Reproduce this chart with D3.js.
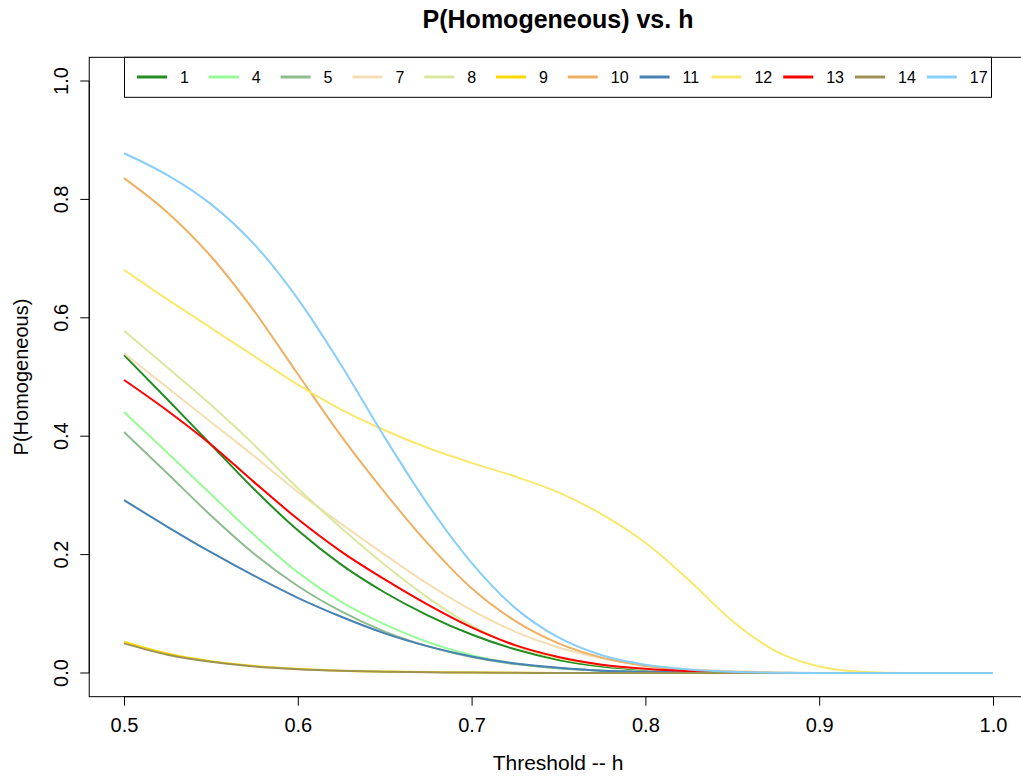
<!DOCTYPE html>
<html>
<head>
<meta charset="utf-8">
<script src="https://cdn.jsdelivr.net/npm/d3@7"></script>
<style>
  html, body { margin: 0; padding: 0; background: #fff; }
  text { font-family: "Liberation Sans", Arial, Helvetica, sans-serif; fill: #000; }
</style>
</head>
<body>
<svg id="chart" width="1021" height="777"></svg>
<script>
// ---- data ----
const thresholds = [0.5, 0.525, 0.55, 0.575, 0.6, 0.625, 0.65, 0.675, 0.7, 0.725, 0.75,
                    0.775, 0.8, 0.825, 0.85, 0.875, 0.9, 0.925, 0.95, 0.975, 1.0];
const seriesNames = ["1", "4", "5", "7", "8", "9", "10", "11", "12", "13", "14", "17"];
const seriesColors = ["#228B22", "#98FB98", "#8FBC8F", "#F5DEB3", "#D9E89E", "#FFD700",
                      "#EEB062", "#4682B4", "#F8E86C", "#FF0000", "#9B9253", "#87CEFA"];
const s1  = [0.537, 0.462, 0.386, 0.310, 0.241, 0.183, 0.136, 0.097, 0.065, 0.040, 0.022, 0.011, 0.005, 0.002, 0.001, 0, 0, 0, 0, 0, 0];
const s4  = [0.441, 0.372, 0.302, 0.233, 0.170, 0.120, 0.082, 0.052, 0.030, 0.016, 0.008, 0.004, 0.002, 0.001, 0, 0, 0, 0, 0, 0, 0];
const s5  = [0.407, 0.337, 0.266, 0.201, 0.147, 0.104, 0.070, 0.045, 0.027, 0.015, 0.008, 0.004, 0.002, 0.001, 0, 0, 0, 0, 0, 0, 0];
const s7  = [0.540, 0.482, 0.424, 0.366, 0.306, 0.252, 0.200, 0.150, 0.106, 0.070, 0.043, 0.025, 0.013, 0.006, 0.003, 0.001, 0, 0, 0, 0, 0];
const s8  = [0.578, 0.516, 0.453, 0.385, 0.312, 0.245, 0.183, 0.127, 0.080, 0.046, 0.025, 0.013, 0.006, 0.003, 0.001, 0, 0, 0, 0, 0, 0];
const s9  = [0.053, 0.033, 0.020, 0.012, 0.007, 0.004, 0.0025, 0.0015, 0.001, 0.0005, 0, 0, 0, 0, 0, 0, 0, 0, 0, 0, 0];
const s10 = [0.836, 0.778, 0.704, 0.611, 0.505, 0.400, 0.305, 0.218, 0.143, 0.088, 0.050, 0.026, 0.012, 0.005, 0.002, 0.0005, 0, 0, 0, 0, 0];
const s11 = [0.292, 0.247, 0.204, 0.164, 0.127, 0.095, 0.067, 0.045, 0.028, 0.016, 0.009, 0.004, 0.002, 0.001, 0, 0, 0, 0, 0, 0, 0];
const s12 = [0.681, 0.631, 0.583, 0.535, 0.487, 0.445, 0.410, 0.380, 0.355, 0.332, 0.305, 0.268, 0.220, 0.157, 0.088, 0.037, 0.011, 0.002, 0, 0, 0];
const s13 = [0.495, 0.443, 0.386, 0.322, 0.260, 0.205, 0.158, 0.115, 0.077, 0.047, 0.027, 0.014, 0.007, 0.003, 0.001, 0, 0, 0, 0, 0, 0];
const s14 = [0.050, 0.031, 0.019, 0.011, 0.0065, 0.0038, 0.0022, 0.0013, 0.0007, 0.0004, 0, 0, 0, 0, 0, 0, 0, 0, 0, 0, 0];
const s17 = [0.878, 0.841, 0.792, 0.724, 0.632, 0.520, 0.398, 0.284, 0.186, 0.110, 0.060, 0.030, 0.014, 0.006, 0.002, 0.0005, 0, 0, 0, 0, 0];
const seriesValues = [s1, s4, s5, s7, s8, s9, s10, s11, s12, s13, s14, s17];
const xTicks = [0.5, 0.6, 0.7, 0.8, 0.9, 1.0];
const yTicks = [0.0, 0.2, 0.4, 0.6, 0.8, 1.0];
const titleText = "P(Homogeneous) vs. h";
const xLabel = "Threshold -- h";
const yLabel = "P(Homogeneous)";

// ---- layout ----
const svg = d3.select("#chart");
const x = d3.scaleLinear().domain([0.5, 1.0]).range([124, 993]);
const y = d3.scaleLinear().domain([0, 1]).range([673, 81]);
const boxL = x(0.48), boxR = x(1.02), boxT = y(1.04), boxB = y(-0.04);

// lines
const line = d3.line()
  .x((d, i) => x(thresholds[i]))
  .y(d => y(d))
  .curve(d3.curveMonotoneX);

const g = svg.append("g");
seriesValues.forEach((vals, k) => {
  g.append("path")
    .attr("d", line(vals))
    .attr("fill", "none")
    .attr("stroke", seriesColors[k])
    .attr("stroke-width", 2);
});

// box
svg.append("rect")
  .attr("x", boxL).attr("y", boxT)
  .attr("width", boxR - boxL).attr("height", boxB - boxT)
  .attr("fill", "none").attr("stroke", "#000").attr("stroke-width", 1);

// x axis
const xAxis = d3.axisBottom(x).tickValues(xTicks).tickFormat(d3.format(".1f"))
  .tickSize(9).tickPadding(12);
const xg = svg.append("g").attr("transform", `translate(0,${boxB})`).call(xAxis);
xg.select(".domain").attr("d", `M${x(0.5)},0H${x(1.0)}`);
xg.selectAll("text").style("font-size", "20px").style("font-family", '"Liberation Sans", Arial, sans-serif');

// y axis
const yAxis = d3.axisLeft(y).tickValues(yTicks).tickFormat(d3.format(".1f"))
  .tickSize(9).tickPadding(0);
const yg = svg.append("g").attr("transform", `translate(${boxL},0)`).call(yAxis);
yg.select(".domain").attr("d", `M0,${y(0)}V${y(1)}`);
yg.selectAll("text")
  .style("font-size", "20px").style("font-family", '"Liberation Sans", Arial, sans-serif')
  .attr("text-anchor", "middle")
  .attr("dy", null)
  .attr("x", null)
  .attr("transform", d => `translate(${68 - boxL},${y(d)}) rotate(-90)`)
  .attr("y", 0);
yg.selectAll(".tick").attr("transform", null);
yg.selectAll(".tick line").attr("transform", d => `translate(0,${y(d)})`);

// titles
svg.append("text").attr("x", 558).attr("y", 28).attr("text-anchor", "middle")
  .style("font-size", "25px").style("font-weight", "bold").text(titleText);
svg.append("text").attr("x", 558).attr("y", 770).attr("text-anchor", "middle")
  .style("font-size", "21px").text(xLabel);
svg.append("text").attr("transform", `translate(28,${(boxT + boxB) / 2}) rotate(-90)`)
  .attr("text-anchor", "middle").style("font-size", "20px").text(yLabel);

// legend
const lg = svg.append("g");
lg.append("rect").attr("x", 124.5).attr("y", boxT).attr("width", 867).attr("height", 40)
  .attr("fill", "#fff").attr("stroke", "#000").attr("stroke-width", 1);
const legX = d3.scaleLinear().domain([0, seriesNames.length]).range([137, 137 + 71.8 * seriesNames.length]);
seriesNames.forEach((name, k) => {
  const lx = legX(k);
  lg.append("line").attr("x1", lx).attr("x2", lx + 30).attr("y1", 77).attr("y2", 77)
    .attr("stroke", seriesColors[k]).attr("stroke-width", 3);
  lg.append("text").attr("x", lx + 43).attr("y", 83).style("font-size", "16px").text(name);
});
</script>
</body>
</html>
